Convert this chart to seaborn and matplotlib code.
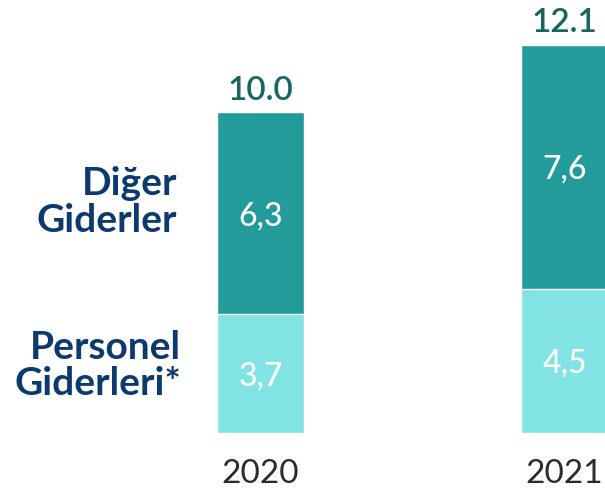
import matplotlib
matplotlib.use("Agg")
import matplotlib.pyplot as plt
import seaborn as sns
import pandas as pd

sns.set_theme(style="white")
plt.rcParams['font.family'] = ['Lato', 'DejaVu Sans']

years = ["2020", "2021"]
personel = [3.7, 4.5]
diger = [6.3, 7.6]
totals = [10.0, 12.1]
series_names = ["Diğer\nGiderler", "Personel\nGiderleri*"]

dark = "#239b9b"
light = "#81e3e3"
navy = "#0d3a6e"
green = "#17675f"

df = pd.DataFrame({"year": years, "personel": personel, "diger": diger, "total": totals})

fig = plt.figure(figsize=(6.05, 4.91), dpi=100)
ax = fig.add_axes([0, 0, 1, 1])

sns.barplot(data=df, x="year", y="total", color=dark, saturation=1, width=0.287, ax=ax)
sns.barplot(data=df, x="year", y="personel", color=light, saturation=1, width=0.287, ax=ax)

ax.set_xlim(-0.857, 1.133)
ax.set_ylim(-1.81, 13.5)
ax.axis("off")

for i, row in df.iterrows():
    ax.annotate(f"{row['total']:.1f}", (i, row["total"]), xytext=(0, 9), textcoords="offset points",
                ha="center", va="baseline", fontsize=24, color=green, fontweight="semibold")
    ax.text(i, row["personel"] / 2, f"{row['personel']:.1f}".replace(".", ","), ha="center",
            va="center_baseline", fontsize=23, color="white", fontweight="medium")
    ax.text(i, row["personel"] + row["diger"] / 2, f"{row['diger']:.1f}".replace(".", ","),
            ha="center", va="center_baseline", fontsize=23, color="white", fontweight="medium")
    ax.text(i, -1.2, row["year"], ha="center", va="center_baseline", fontsize=24,
            color="#2b2b2b", fontweight="normal")

ax.text(-0.275, 7.2, series_names[0], ha="right", va="center", fontsize=28, fontweight="bold",
        color=navy, linespacing=1.05)
ax.text(-0.262, 2.1, series_names[1], ha="right", va="center", fontsize=28, fontweight="bold",
        color=navy, linespacing=1.05)

fig.savefig("out.png", dpi=100)
